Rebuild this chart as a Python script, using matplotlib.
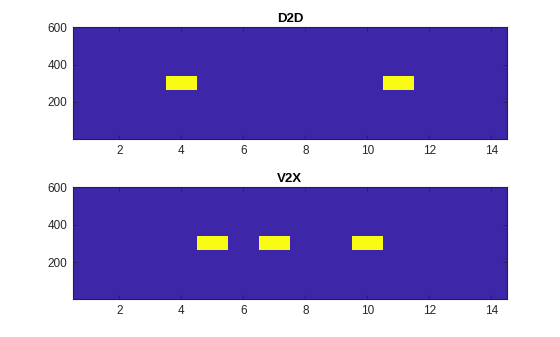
import numpy as np
import matplotlib
matplotlib.use("Agg")
import matplotlib.pyplot as plt
from matplotlib.colors import ListedColormap

# Data
n_symbols = 14
n_subcarriers = 600
band_start, band_end = 265, 335          # occupied subcarrier band
d2d_symbols = [4, 11]
v2x_symbols = [5, 7, 10]
titles = ["D2D", "V2X"]
x_ticks = [2, 4, 6, 8, 10, 12, 14]
y_ticks = [200, 400, 600]

def grid(symbols):
    g = np.zeros((n_subcarriers, n_symbols))
    for s in symbols:
        g[band_start - 1:band_end, s - 1] = 1
    return g

cmap = ListedColormap(["#3E26A8", "#F9FB15"])
plt.rcParams['font.family'] = ['Liberation Sans', 'DejaVu Sans']
fig = plt.figure(figsize=(5.6, 3.37), dpi=100)
positions = [[0.1304, 0.5875, 0.7744, 0.3315], [0.1304, 0.1119, 0.7744, 0.3323]]
axcol = "#262626"
for pos, syms, title in zip(positions, [d2d_symbols, v2x_symbols], titles):
    ax = fig.add_axes(pos)
    ax.imshow(grid(syms), cmap=cmap, vmin=0, vmax=1, origin="lower", aspect="auto",
              extent=[0.5, n_symbols + 0.5, 0.5, n_subcarriers + 0.5], interpolation="nearest")
    ax.set_xlim(0.5, n_symbols + 0.5)
    ax.set_ylim(0.5, n_subcarriers + 0.5)
    ax.set_xticks(x_ticks)
    ax.set_yticks(y_ticks)
    ax.tick_params(direction="in", length=3, width=0.6, top=True, right=True,
                   labelsize=8.5, colors=axcol, pad=4)
    for sp in ax.spines.values():
        sp.set_color(axcol)
        sp.set_linewidth(0.8)
    ax.set_title(title, fontsize=9.5, fontweight="bold", color="black", pad=4)

fig.savefig("out.png", dpi=100)
